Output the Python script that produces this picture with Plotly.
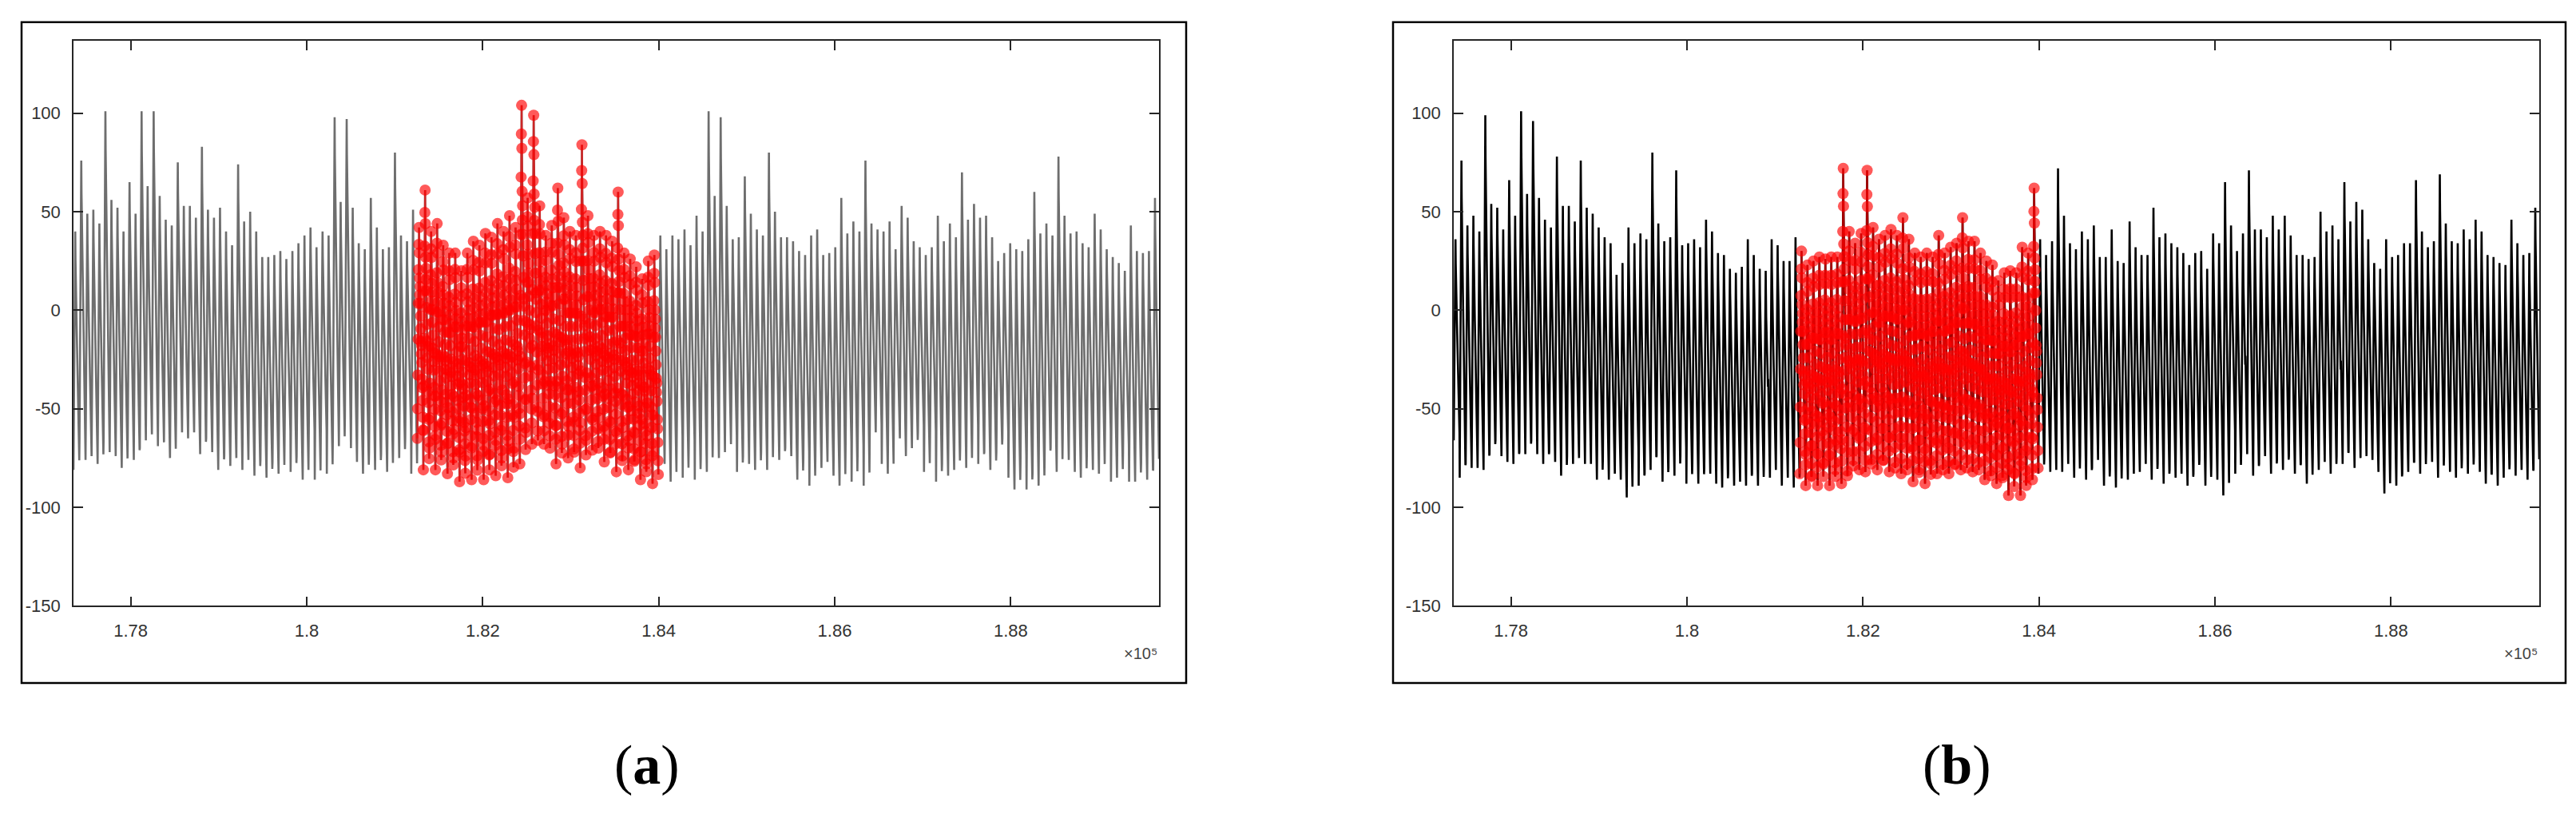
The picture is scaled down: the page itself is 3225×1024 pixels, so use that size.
import numpy as np
import plotly.graph_objects as go

# ---- data ----
x_range = [177350, 189685]

cycle_shape = [0.00, 0.14, 0.30, 0.47, 0.64, 0.80, 0.92, 1.00, 0.88, 0.76, 0.68, 0.72,
               0.64, 0.58, 0.52, 0.46, 0.40, 0.44, 0.36, 0.28, 0.24, 0.18, 0.10, 0.04]

# panel (a): peak / trough of every beat, left part, highlighted part, right part
peaks_a_left = [40, 76, 49, 51, 44, 101, 56, 52, 40, 65, 49, 101, 63, 101, 58, 46, 43, 75, 53, 53,
                47, 83, 51, 47, 52, 40, 33, 74, 45, 50, 40, 27, 27, 28, 30, 26, 30, 34, 38, 42,
                32, 40, 38, 98, 55, 97, 52, 34, 31, 57, 42, 31, 32, 80, 38, 35, 51]
peaks_a_red = [42, 61, 40, 44, 33, 29, 29, 20, 29, 35, 33, 39, 37, 44, 40, 48, 42, 104, 57, 99,
               53, 38, 43, 62, 47, 40, 38, 84, 48, 38, 40, 38, 35, 60, 29, 26, 22, 16, 25, 28]
peaks_a_right = [38, 31, 38, 36, 41, 33, 48, 40, 101, 58, 98, 53, 36, 37, 68, 49, 41, 38, 80, 50,
                 37, 37, 35, 30, 28, 38, 41, 28, 29, 32, 57, 39, 45, 40, 76, 44, 41, 40, 45, 31,
                 53, 47, 35, 32, 28, 32, 48, 35, 44, 37, 70, 46, 54, 47, 48, 37, 25, 29, 34, 31,
                 30, 36, 60, 39, 44, 38, 78, 48, 39, 40, 34, 32, 49, 41, 31, 27, 24, 20, 43, 30,
                 29, 30, 57]
troughs_a_left = [-81, -65, -76, -74, -78, -65, -72, -74, -80, -64, -76, -70, -66, -63, -69, -67, -75,
                  -57, -62, -65, -62, -73, -65, -72, -81, -74, -79, -75, -81, -76, -84, -76, -85,
                  -77, -83, -65, -82, -74, -86, -65, -86, -65, -83, -65, -69, -54, -70, -77, -83,
                  -72, -81, -73, -82, -66, -75, -65, -83]
troughs_a_red = [-65, -81, -70, -81, -72, -83, -75, -87, -74, -86, -76, -86, -73, -84, -75, -85,
                 -70, -78, -62, -68, -66, -68, -70, -78, -68, -75, -72, -80, -66, -71, -70, -77,
                 -72, -82, -74, -81, -76, -86, -78, -88]
troughs_a_right = [-72, -78, -87, -68, -85, -70, -86, -75, -82, -65, -75, -72, -68, -82, -74, -78,
                   -81, -72, -81, -65, -76, -70, -74, -86, -76, -89, -74, -80, -77, -84, -89, -71,
                   -87, -73, -89, -65, -62, -78, -83, -54, -65, -74, -70, -62, -82, -65, -87, -78,
                   -84, -81, -70, -80, -63, -78, -72, -81, -72, -65, -85, -91, -78, -91, -83, -89,
                   -76, -70, -82, -65, -76, -82, -85, -74, -81, -83, -65, -87, -85, -72, -87, -87,
                   -78, -86, -81]

# panel (b)
peaks_b_left = [36, 76, 43, 48, 40, 99, 54, 52, 41, 66, 48, 101, 59, 96, 57, 46, 42, 78, 53, 53,
                45, 76, 52, 49, 42, 37, 34, 18, 24, 42, 34, 39, 36, 80, 44, 35, 37, 71, 33, 34,
                36, 32, 46, 40, 29, 28, 21, 19, 22, 36, 28, 21, 20, 36, 33, 25, 25, 37]
peaks_b_red = [30, 23, 25, 27, 26, 27, 27, 72, 40, 34, 39, 71, 42, 36, 38, 41, 38, 47, 36, 29,
               27, 29, 27, 38, 29, 32, 34, 47, 35, 35, 29, 25, 23, 15, 19, 20, 19, 32, 29, 62]
peaks_b_right = [36, 28, 35, 72, 48, 34, 31, 40, 36, 43, 27, 27, 41, 25, 24, 45, 32, 28, 28, 52,
                 37, 39, 34, 32, 29, 23, 29, 30, 21, 39, 34, 65, 43, 30, 39, 71, 41, 41, 37, 48,
                 41, 48, 38, 28, 28, 26, 27, 50, 40, 43, 36, 65, 45, 55, 51, 36, 24, 21, 36, 27,
                 28, 34, 34, 66, 40, 32, 35, 69, 44, 35, 34, 41, 36, 46, 40, 28, 27, 24, 23, 46,
                 34, 28, 29, 52]
troughs_b_left = [-66, -85, -78, -80, -80, -81, -73, -66, -74, -77, -78, -72, -73, -66, -73, -78,
                  -72, -77, -84, -74, -78, -75, -78, -78, -86, -76, -86, -83, -86, -95, -75, -89,
                  -83, -81, -74, -87, -80, -84, -74, -88, -78, -88, -80, -83, -88, -90, -83, -89,
                  -87, -89, -83, -89, -78, -85, -81, -89, -85, -90]
troughs_b_red = [-83, -89, -84, -89, -78, -89, -81, -88, -84, -76, -81, -82, -78, -81, -76, -82,
                 -80, -83, -81, -87, -81, -88, -78, -83, -81, -83, -78, -81, -80, -82, -81, -86,
                 -84, -88, -85, -94, -83, -94, -85, -86]
troughs_b_right = [-83, -75, -82, -81, -82, -78, -85, -74, -86, -80, -76, -89, -81, -90, -78, -86,
                   -83, -82, -78, -86, -78, -88, -81, -85, -83, -89, -83, -76, -89, -78, -86, -94,
                   -65, -83, -72, -73, -84, -78, -74, -83, -76, -81, -74, -83, -78, -88, -74, -81,
                   -77, -83, -74, -78, -72, -80, -75, -74, -76, -82, -93, -78, -89, -83, -82, -77,
                   -83, -72, -77, -85, -74, -82, -85, -76, -83, -74, -82, -88, -83, -89, -85, -78,
                   -84, -81, -86, -81]

y_ticks = [-150, -100, -50, 0, 50, 100]
x_ticks = [178000, 180000, 182000, 184000, 186000, 188000]
x_tick_labels = ['1.78', '1.8', '1.82', '1.84', '1.86', '1.88']
y_range = [-150, 136.6]


def build(peaks, troughs):
    """stack one beat shape per (peak, trough) pair"""
    y = []
    for p, t in zip(peaks, troughs):
        y.extend(t + (p - t) * s for s in cycle_shape)
    x = np.linspace(x_range[0], x_range[1], len(y))
    return x, np.array(y)


fig = go.Figure()

panels = [
    ('a', peaks_a_left, peaks_a_red, peaks_a_right, troughs_a_left, troughs_a_red, troughs_a_right,
     '#6e6e6e', 'x', 'y'),
    ('b', peaks_b_left, peaks_b_red, peaks_b_right, troughs_b_left, troughs_b_red, troughs_b_right,
     '#000000', 'x2', 'y2'),
]

for name, pl, pr, pa, tl, tr, ta, col, xa, ya in panels:
    x, y = build(pl + pr + pa, tl + tr + ta)
    n = len(cycle_shape)
    i0 = len(pl) * n
    i1 = (len(pl) + len(pr)) * n
    fig.add_trace(go.Scatter(x=x, y=y, mode='lines', line=dict(color=col, width=2.6),
                             xaxis=xa, yaxis=ya, showlegend=False, hoverinfo='skip'))
    # highlighted segment: red line + translucent circles
    fig.add_trace(go.Scatter(x=x[i0:i1], y=y[i0:i1], mode='lines+markers',
                             line=dict(color='rgba(255,0,0,0.65)', width=2.5),
                             marker=dict(color='rgba(255,0,0,0.65)', size=14, line=dict(width=0)),
                             xaxis=xa, yaxis=ya, showlegend=False, hoverinfo='skip'))

axis_style = dict(showline=True, linecolor='#262626', linewidth=1.5, mirror='ticks',
                  ticks='inside', ticklen=12, tickwidth=1.5, tickcolor='#262626',
                  showgrid=False, zeroline=False,
                  tickfont=dict(family='Liberation Sans, Arial', size=22, color='#333333'))

dom_a = [84 / 3225, 1443 / 3225]
dom_b = [1812 / 3225, 3171 / 3225]
dom_y = [(1024 - 760) / 1024, (1024 - 44) / 1024]

fig.update_layout(
    width=3225, height=1024,
    margin=dict(l=0, r=0, t=0, b=0),
    paper_bgcolor='white', plot_bgcolor='white',
    xaxis=dict(domain=dom_a, range=x_range, anchor='y', tickvals=x_ticks,
               ticktext=x_tick_labels, ticklabelstandoff=10, **axis_style),
    yaxis=dict(domain=dom_y, range=y_range, anchor='x', tickvals=y_ticks,
               ticktext=[str(v) for v in y_ticks], ticklabelstandoff=10, **axis_style),
    xaxis2=dict(domain=dom_b, range=x_range, anchor='y2', tickvals=x_ticks,
                ticktext=x_tick_labels, ticklabelstandoff=10, **axis_style),
    yaxis2=dict(domain=dom_y, range=y_range, anchor='x2', tickvals=y_ticks,
                ticktext=[str(v) for v in y_ticks], ticklabelstandoff=10, **axis_style),
)

# outer figure frames
for x0, x1 in [(19, 1477), (1736, 3204)]:
    fig.add_shape(type='rect', xref='paper', yref='paper',
                  x0=x0 / 3225, x1=x1 / 3225, y0=(1024 - 858) / 1024, y1=(1024 - 20) / 1024,
                  line=dict(color='black', width=2.5), layer='below')

# exponent labels and panel letters
for dom, letter in [(dom_a, 'a'), (dom_b, 'b')]:
    fig.add_annotation(x=dom[1], y=(1024 - 820) / 1024, xref='paper', yref='paper',
                       xanchor='right', yanchor='middle', showarrow=False,
                       text='\u00d710\u2075',
                       font=dict(family='Liberation Sans, Arial', size=20, color='#444444'))
    fig.add_annotation(x=(dom[0] + dom[1]) / 2 - 0.0015, y=(1024 - 962) / 1024,
                       xref='paper', yref='paper', yanchor='middle', showarrow=False,
                       text='(<b>%s</b>)' % letter,
                       font=dict(family='Liberation Serif, Times New Roman', size=70, color='black'))

fig.write_html("out.html")
